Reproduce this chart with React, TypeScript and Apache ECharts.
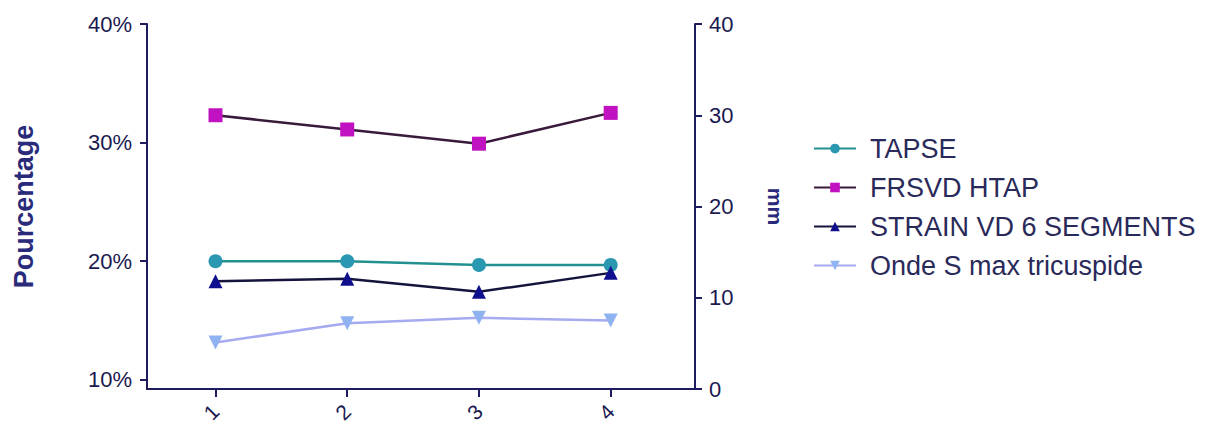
import React, { useEffect, useRef } from "react";
import * as echarts from "echarts";

const categories = ["1", "2", "3", "4"];
const leftTicks = [10, 20, 30, 40];
const rightTicks = [0, 10, 20, 30, 40];
const tapse = [14.0, 14.0, 13.6, 13.6];
const frsvd = [32.3, 31.1, 29.9, 32.5];
const strain = [18.3, 18.5, 17.4, 19.0];
const ondeS = [5.1, 7.2, 7.8, 7.5];

const NAVY = "#1c1c5e";
const LABEL = "#1a1a50";
const FONT = "'Liberation Sans', Arial, sans-serif";

const toPts = (vals: number[]) => vals.map((v, i) => [i + 1, v]);

export default function App() {
  const ref = useRef<HTMLDivElement>(null);
  useEffect(() => {
    if (!ref.current) return;
    const chart = echarts.init(ref.current, undefined, { renderer: "svg" });
    const xTicks = categories.map((_, i) => i + 1);
    chart.setOption({
      animation: false,
      backgroundColor: "#ffffff",
      textStyle: { fontFamily: FONT },
      grid: { left: 147, right: 518, top: 24, bottom: 41, containLabel: false },
      legend: {
        orient: "vertical",
        left: 808,
        top: 130,
        itemGap: 12,
        itemWidth: 42,
        itemHeight: 12,
        textStyle: {
          fontSize: 27,
          lineHeight: 27,
          color: "#2a2a5a",
          fontFamily: FONT,
          padding: [0, 0, 0, 9],
        },
        data: ["TAPSE", "FRSVD HTAP", "STRAIN VD 6 SEGMENTS", "Onde S max tricuspide"],
      },
      xAxis: {
        type: "value",
        min: 0.48,
        max: 4.64,
        splitLine: { show: false },
        axisLine: { lineStyle: { color: NAVY, width: 2 } },
        axisTick: { customValues: xTicks, length: 8, lineStyle: { color: NAVY, width: 2 } },
        axisLabel: {
          customValues: xTicks,
          rotate: 45,
          margin: 19,
          fontSize: 21,
          color: LABEL,
          fontFamily: FONT,
          formatter: (v: number) => categories[Math.round(v) - 1] ?? "",
        },
      },
      yAxis: [
        {
          type: "value",
          position: "left",
          min: 9.2,
          max: 40,
          name: "Pourcentage",
          nameLocation: "middle",
          nameRotate: 90,
          nameGap: 110,
          nameTextStyle: { fontSize: 27, fontWeight: "bold", color: "#2a2a7a", fontFamily: FONT },
          splitLine: { show: false },
          axisLine: { show: true, lineStyle: { color: NAVY, width: 2 } },
          axisTick: { show: true, customValues: leftTicks, length: 7, lineStyle: { color: NAVY, width: 2 } },
          axisLabel: {
            customValues: leftTicks,
            margin: 15,
            fontSize: 22,
            color: LABEL,
            fontFamily: FONT,
            formatter: (v: number) => `${v}%`,
          },
        },
        {
          type: "value",
          position: "right",
          min: 0,
          max: 40,
          name: "mm",
          nameLocation: "middle",
          nameRotate: -90,
          nameGap: 70,
          nameTextStyle: { fontSize: 21, fontWeight: "bold", color: "#2a2a7a", fontFamily: FONT },
          splitLine: { show: false },
          axisLine: { show: true, lineStyle: { color: NAVY, width: 2 } },
          axisTick: { show: true, customValues: rightTicks, length: 7, lineStyle: { color: NAVY, width: 2 } },
          axisLabel: {
            customValues: rightTicks,
            margin: 14,
            fontSize: 22,
            color: LABEL,
            fontFamily: FONT,
          },
        },
      ],
      series: [
        {
          name: "TAPSE",
          type: "line",
          yAxisIndex: 1,
          data: toPts(tapse),
          symbol: "circle",
          symbolSize: 14,
          itemStyle: { color: "#2a98b0" },
          lineStyle: { color: "#239090", width: 2.5 },
        },
        {
          name: "FRSVD HTAP",
          type: "line",
          yAxisIndex: 0,
          data: toPts(frsvd),
          symbol: "rect",
          symbolSize: 14,
          itemStyle: { color: "#c012c0" },
          lineStyle: { color: "#3a1a3a", width: 2.5 },
        },
        {
          name: "STRAIN VD 6 SEGMENTS",
          type: "line",
          yAxisIndex: 0,
          data: toPts(strain),
          symbol: "triangle",
          symbolSize: 14,
          itemStyle: { color: "#10108e" },
          lineStyle: { color: "#14143c", width: 2.5 },
        },
        {
          name: "Onde S max tricuspide",
          type: "line",
          yAxisIndex: 1,
          data: toPts(ondeS),
          symbol: "triangle",
          symbolRotate: 180,
          symbolSize: 14,
          itemStyle: { color: "#8fb2f0" },
          lineStyle: { color: "#a6aaf0", width: 2.5 },
        },
      ],
    });
    return () => chart.dispose();
  }, []);
  return (
    <div
      ref={ref}
      style={{ position: "fixed", left: 0, top: 0, width: 1213, height: 430 }}
    />
  );
}
